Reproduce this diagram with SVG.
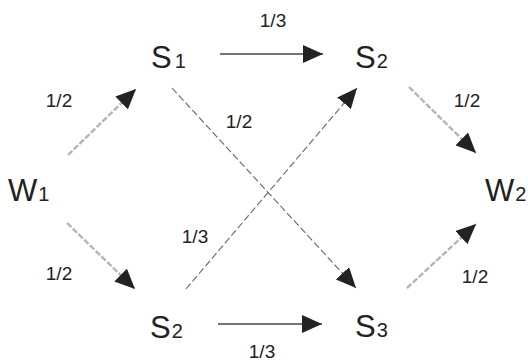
<svg xmlns="http://www.w3.org/2000/svg" width="528" height="362" viewBox="0 0 528 362">
<style>
.big{font-family:"Liberation Sans",Arial,sans-serif;font-size:31px;fill:#222}
.sub{font-size:20px}
.lbl{font-family:"Liberation Sans",Arial,sans-serif;font-size:19px;fill:#222;text-anchor:middle}
.solid{stroke:#444;stroke-width:1.6;fill:none}
.light{stroke:#b5b5b5;stroke-width:2.4;stroke-dasharray:6 2;fill:none}
.dash{stroke:#666;stroke-width:1.1;stroke-dasharray:7 3;fill:none}
</style>
<defs>
<marker id="ah" markerUnits="userSpaceOnUse" markerWidth="20" markerHeight="18" refX="20" refY="9" orient="auto" viewBox="0 0 20 18">
<path d="M0,0 L20,9 L0,18 z" fill="#222"/>
</marker>
</defs>
<rect width="528" height="362" fill="#fff"/>
<g id="connectors">
<line class="solid" x1="220" y1="54" x2="323" y2="54" marker-end="url(#ah)"/>
<line class="solid" x1="218" y1="324" x2="322" y2="324" stroke="#222" marker-end="url(#ah)"/>
<line class="light" x1="68" y1="155" x2="136" y2="89" marker-end="url(#ah)"/>
<line class="light" x1="67" y1="223" x2="135" y2="289" marker-end="url(#ah)"/>
<line class="dash" x1="172" y1="88" x2="356" y2="288" marker-end="url(#ah)"/>
<line class="dash" x1="186" y1="289" x2="357" y2="88" marker-end="url(#ah)"/>
<line class="light" x1="409" y1="87" x2="476" y2="153" marker-end="url(#ah)"/>
<line class="light" x1="407" y1="288" x2="476" y2="224" marker-end="url(#ah)"/>
<text class="lbl" x="273" y="27">1/3</text>
<text class="lbl" x="262" y="358">1/3</text>
<text class="lbl" x="59" y="107">1/2</text>
<text class="lbl" x="59" y="280">1/2</text>
<text class="lbl" x="239" y="128">1/2</text>
<text class="lbl" x="195" y="243">1/3</text>
<text class="lbl" x="467" y="107">1/2</text>
<text class="lbl" x="475" y="283">1/2</text>
</g>
<g id="W1"><text class="big" x="8" y="201">W<tspan class="sub" dx="1">1</tspan></text></g>
<g id="S1"><text class="big" x="151" y="68">S<tspan class="sub" dx="3">1</tspan></text></g>
<g id="S2top"><text class="big" x="355" y="68">S<tspan class="sub" dx="1">2</tspan></text></g>
<g id="S2"><text class="big" x="150" y="338">S<tspan class="sub" dx="1">2</tspan></text></g>
<g id="S3"><text class="big" x="355" y="337">S<tspan class="sub" dx="1">3</tspan></text></g>
<g id="W2"><text class="big" x="485" y="201">W<tspan class="sub" dx="1">2</tspan></text></g>
</svg>
